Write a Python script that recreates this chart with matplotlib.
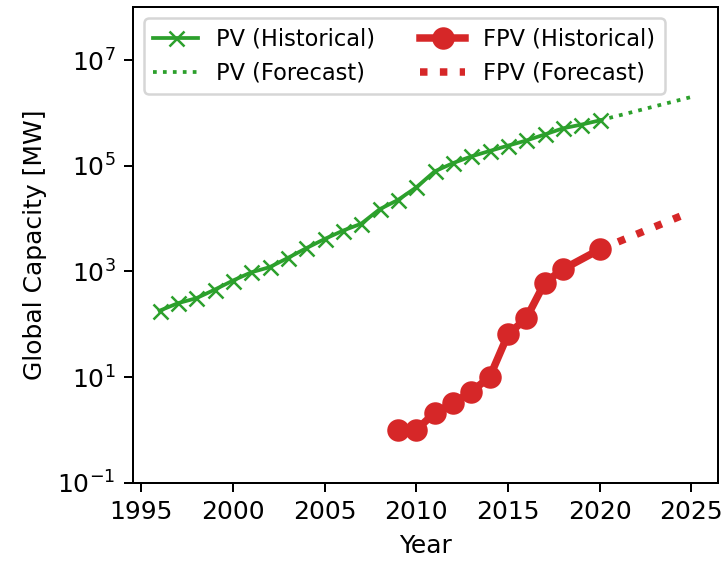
import matplotlib
matplotlib.use("Agg")
import matplotlib.pyplot as plt
from matplotlib.ticker import FixedLocator, NullLocator, LogFormatterSciNotation

pv_years = list(range(1996, 2021))
pv_hist = [180, 250, 310, 450, 670, 960, 1200, 1800, 2750, 4100, 5900, 8000,
           15000, 22500, 39000, 78000, 112000, 150000, 190000, 240000,
           300000, 390000, 510000, 600000, 720000]
pv_fc_years = [2020, 2025]
pv_fc = [720000, 2000000]

fpv_years = [2009, 2010, 2011, 2012, 2013, 2014, 2015, 2016, 2017, 2018, 2020]
fpv_hist = [1.0, 1.0, 2.1, 3.2, 5.3, 10, 64, 130, 610, 1100, 2600]
fpv_fc_years = [2020, 2025]
fpv_fc = [2600, 13500]

DPI = 180
fig = plt.figure(figsize=(725 / DPI, 562 / DPI), dpi=DPI)
ax = fig.add_axes([133 / 725, 1 - 482.7 / 562, (718 - 133) / 725, (482.7 - 7.2) / 562])

ax.plot(pv_years, pv_hist, color="tab:green", marker="x", label="PV (Historical)")
ax.plot(pv_fc_years, pv_fc, color="tab:green", linestyle=":", label="PV (Forecast)")
ax.plot(fpv_years, fpv_hist, color="tab:red", marker="o", lw=3, markersize=8,
        label="FPV (Historical)")
ax.plot(fpv_fc_years, fpv_fc, color="tab:red", linestyle=":", lw=3,
        label="FPV (Forecast)")

ax.set_yscale("log")
ax.set_ylim(1e-1, 1e8)
ax.yaxis.set_major_locator(FixedLocator([1e-1, 1e1, 1e3, 1e5, 1e7]))
ax.yaxis.set_major_formatter(LogFormatterSciNotation())
ax.yaxis.set_minor_locator(NullLocator())
ax.set_xticks([1995, 2000, 2005, 2010, 2015, 2020, 2025])

ax.set_xlabel("Year")
ax.set_ylabel("Global Capacity [MW]")
ax.legend(ncol=2, loc="upper left", fontsize=9)

fig.savefig("out.png", dpi=DPI)
